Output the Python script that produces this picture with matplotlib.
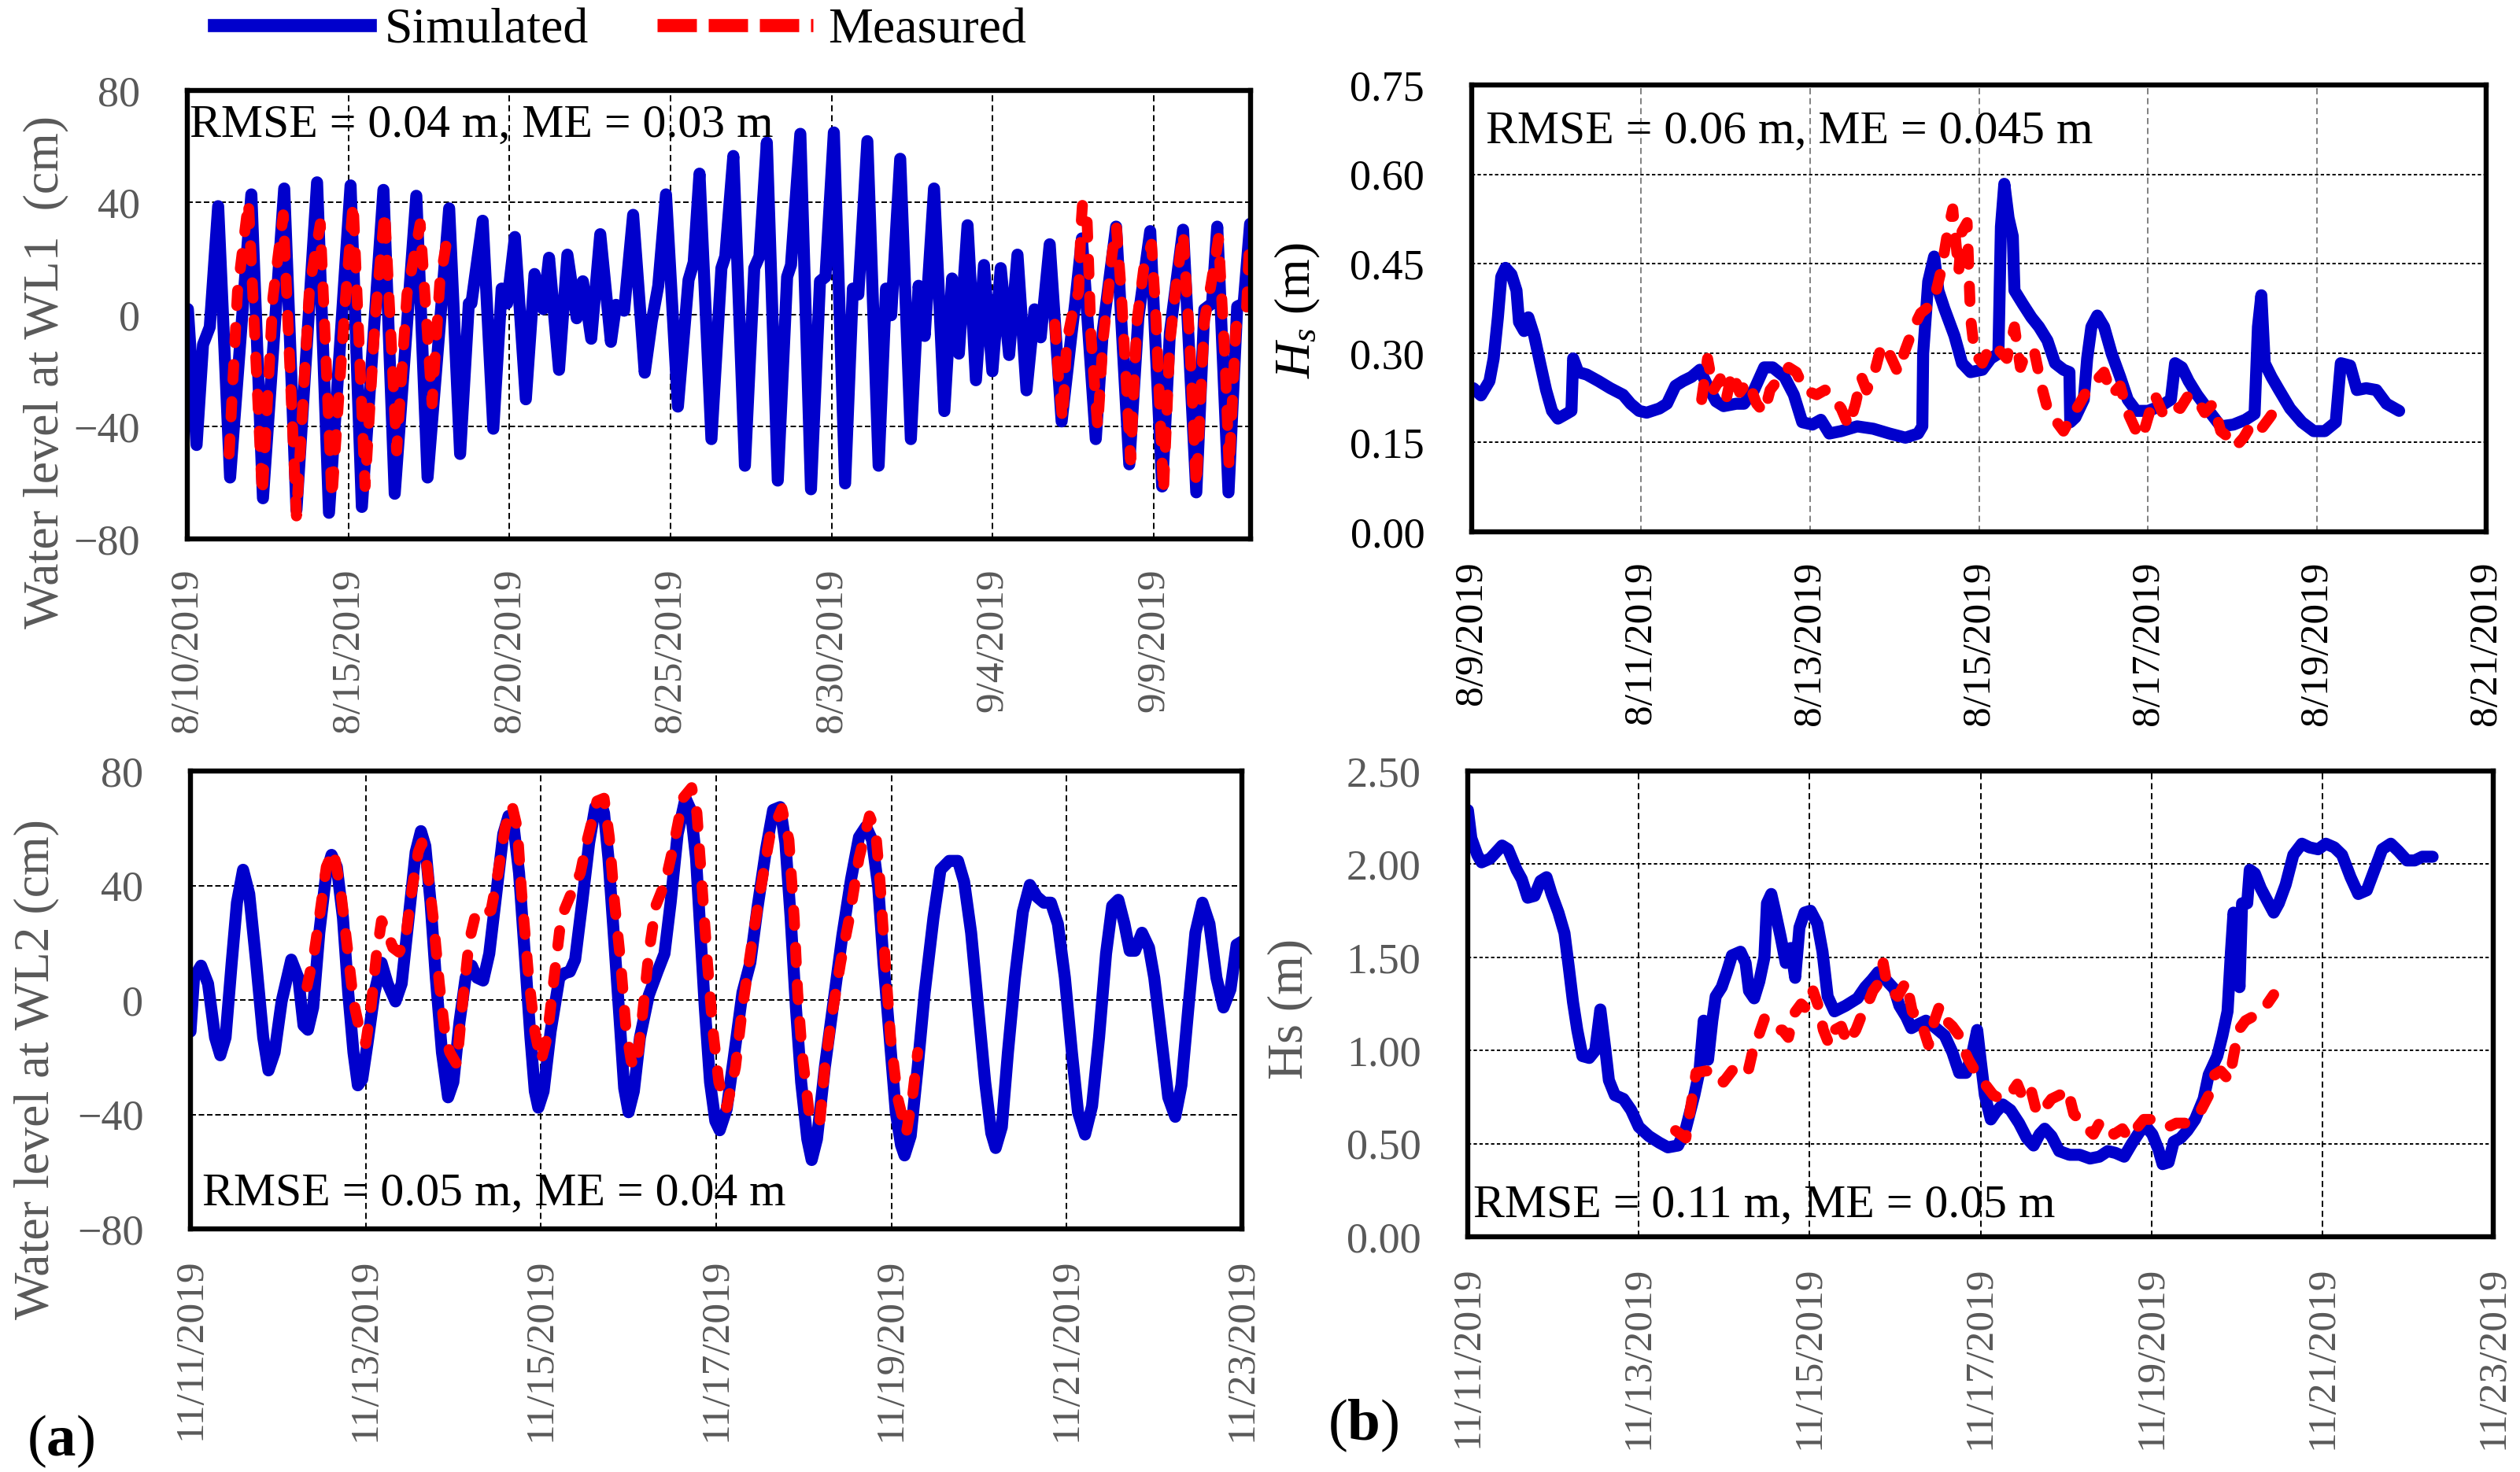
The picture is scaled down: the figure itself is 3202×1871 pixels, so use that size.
import numpy as np
import pandas as pd
import matplotlib
matplotlib.use("Agg")
import matplotlib.pyplot as plt
from matplotlib.lines import Line2D

plt.rcParams['font.family'] = ['Liberation Serif', 'DejaVu Serif']
plt.rcParams['mathtext.fontset'] = 'custom'
plt.rcParams['mathtext.rm'] = 'Liberation Serif'
plt.rcParams['mathtext.it'] = 'Liberation Serif:italic'
plt.rcParams['mathtext.bf'] = 'Liberation Serif:bold'

# ---- data: (days since start, value) ----
# Water level at WL1 (cm), start 8/10/2019
wl1_sim = [(0.02, 2), (0.29, -46.5), (0.49, -10.7), (0.70, -4.4), (0.96, 38.7), (1.33, -58.1),
           (1.99, 42.9), (2.35, -65.5), (3.01, 45.0), (3.39, -69.7), (4.03, 47.2), (4.40, -70.7),
           (5.07, 46.1), (5.42, -68.6), (6.09, 44.5), (6.44, -63.9), (7.11, 42.4), (7.46, -58.1),
           (8.13, 37.9), (8.47, -49.7), (8.74, 4.0), (8.82, 4.0), (9.17, 33.5), (9.50, -40.7),
           (9.76, 9.3), (9.93, 4.0), (10.17, 27.7), (10.51, -30.2), (10.78, 14.5), (11.05, 2.0),
           (11.23, 20.3), (11.54, -19.7), (11.80, 21.4), (12.09, -1.3), (12.28, 11.9), (12.54, -8.6),
           (12.82, 28.7), (13.15, -9.7), (13.31, 3.5), (13.56, 1.4), (13.84, 35.6), (14.20, -20.7),
           (14.42, -2.3), (14.62, 10.3), (14.86, 42.9), (15.23, -32.8), (15.56, 12.4), (15.72, 18.7),
           (15.90, 50.3), (16.27, -44.4), (16.58, 16.6), (16.70, 20.8), (16.95, 56.6), (17.31, -53.9),
           (17.60, 16.6), (17.76, 20.8), (17.99, 61.4), (18.33, -59.2), (18.62, 13.5), (18.74, 17.7),
           (19.03, 64.5), (19.36, -62.3), (19.64, 11.9), (19.81, 13.5), (20.07, 65.0), (20.42, -60.2),
           (20.66, 9.3), (20.83, 7.2), (21.11, 61.9), (21.46, -53.9), (21.69, 9.3), (21.85, -0.2),
           (22.13, 55.6), (22.46, -44.4), (22.70, 10.3), (22.89, -7.6), (23.18, 45.0), (23.50, -34.4),
           (23.74, 12.9), (23.95, -13.9), (24.22, 31.9), (24.48, -23.4), (24.73, 17.7), (24.99, -20.2),
           (25.25, 16.6), (25.51, -14.4), (25.77, 21.4), (26.05, -27.0), (26.30, 1.9), (26.49, -8.1),
           (26.77, 25.1), (27.14, -38.1), (27.44, -7.6), (27.56, 4.0), (27.77, 27.2), (28.20, -44.4),
           (28.42, -5.5), (28.83, 31.4), (29.24, -53.4), (29.52, -1.3), (29.89, 29.8), (30.26, -61.3),
           (30.50, -6.5), (30.91, 30.3), (31.32, -63.4), (31.57, 1.9), (31.81, 4.0), (31.97, 31.4),
           (32.32, -63.4), (32.59, 2.9), (32.79, 4.0), (32.99, 32.4)]
wl1_meas_a = [(1.30, -49.7), (1.56, 8.2), (1.90, 40.3), (2.33, -64.4), (2.66, 6.1), (2.98, 35.6),
              (3.39, -71.8), (3.80, 10.3), (4.13, 32.4), (4.49, -65.5), (4.90, 4.0), (5.15, 39.8),
              (5.52, -61.3), (5.84, -0.2), (6.13, 36.6), (6.50, -48.6), (6.82, 7.2), (7.23, 32.4),
              (7.60, -31.8), (7.84, 11.4), (8.13, 31.4)]
wl1_meas_b = [(26.93, -3.4), (27.05, -23.4), (27.17, -37.6), (27.30, -9.7), (27.50, 1.9), (27.67, 8.2),
              (27.74, 31.4), (27.79, 39.8), (27.93, 33.5), (27.97, 20.8), (28.05, -7.6), (28.26, -40.2),
              (28.42, -9.7), (28.58, 7.2), (28.71, 21.9), (28.84, 31.4), (28.99, 8.2), (29.28, -51.8),
              (29.48, -2.3), (29.69, 16.6), (29.93, 25.1), (30.05, 2.9), (30.30, -63.4), (30.50, -9.7),
              (30.67, 8.2), (30.91, 29.3), (31.12, -10.7), (31.32, -61.3), (31.57, -2.3), (31.77, 10.3),
              (32.01, 27.2), (32.22, -18.1), (32.34, -54.9), (32.55, -4.4), (32.88, 1.9), (32.96, 22.9)]

# Hs (m), start 8/9/2019
hs1_sim = [(0.02, 0.241), (0.11, 0.229), (0.21, 0.253), (0.26, 0.291), (0.31, 0.36), (0.35, 0.428),
           (0.40, 0.443), (0.47, 0.432), (0.53, 0.405), (0.56, 0.352), (0.62, 0.337), (0.67, 0.36),
           (0.74, 0.329), (0.81, 0.283), (0.88, 0.238), (0.95, 0.203), (1.02, 0.19), (1.12, 0.198),
           (1.18, 0.203), (1.20, 0.291), (1.26, 0.268), (1.36, 0.264), (1.50, 0.253), (1.64, 0.241),
           (1.79, 0.23), (1.88, 0.215), (1.98, 0.203), (2.07, 0.2), (2.22, 0.207), (2.31, 0.215),
           (2.41, 0.245), (2.50, 0.253), (2.60, 0.26), (2.70, 0.272), (2.79, 0.245), (2.89, 0.219),
           (2.98, 0.211), (3.13, 0.215), (3.22, 0.215), (3.34, 0.238), (3.46, 0.276), (3.56, 0.276),
           (3.70, 0.26), (3.81, 0.23), (3.91, 0.184), (4.03, 0.18), (4.13, 0.188), (4.23, 0.165),
           (4.37, 0.169), (4.56, 0.177), (4.75, 0.173), (4.94, 0.165), (5.13, 0.158), (5.28, 0.165),
           (5.33, 0.177), (5.34, 0.299), (5.40, 0.42), (5.47, 0.462), (5.52, 0.405), (5.59, 0.375),
           (5.71, 0.329), (5.80, 0.283), (5.90, 0.268), (6.04, 0.272), (6.14, 0.291), (6.23, 0.299),
           (6.26, 0.512), (6.30, 0.584), (6.35, 0.527), (6.40, 0.496), (6.42, 0.405), (6.52, 0.382),
           (6.62, 0.36), (6.71, 0.344), (6.81, 0.321), (6.90, 0.283), (7.00, 0.272), (7.07, 0.268),
           (7.08, 0.184), (7.14, 0.192), (7.24, 0.222), (7.28, 0.291), (7.33, 0.344), (7.40, 0.363),
           (7.48, 0.344), (7.57, 0.299), (7.67, 0.26), (7.76, 0.222), (7.86, 0.203), (8.00, 0.203),
           (8.15, 0.211), (8.27, 0.222), (8.32, 0.283), (8.40, 0.276), (8.48, 0.253), (8.58, 0.23),
           (8.72, 0.203), (8.86, 0.177), (9.01, 0.18), (9.15, 0.188), (9.26, 0.198), (9.30, 0.344),
           (9.34, 0.397), (9.38, 0.283), (9.46, 0.26), (9.55, 0.238), (9.68, 0.207), (9.82, 0.184),
           (9.96, 0.169), (10.09, 0.169), (10.22, 0.184), (10.28, 0.283), (10.39, 0.279), (10.47, 0.238),
           (10.58, 0.241), (10.70, 0.238), (10.82, 0.215), (10.97, 0.203)]
hs1_meas = [(2.72, 0.222), (2.79, 0.291), (2.86, 0.238), (2.94, 0.257), (3.01, 0.222), (3.08, 0.268),
            (3.17, 0.234), (3.27, 0.253), (3.37, 0.215), (3.46, 0.2), (3.53, 0.238), (3.65, 0.26),
            (3.75, 0.276), (3.84, 0.268), (3.94, 0.238), (4.08, 0.23), (4.18, 0.238), (4.29, 0.222),
            (4.37, 0.207), (4.46, 0.177), (4.54, 0.215), (4.61, 0.26), (4.67, 0.238), (4.75, 0.26),
            (4.85, 0.314), (4.94, 0.299), (5.04, 0.268), (5.13, 0.306), (5.23, 0.344), (5.31, 0.367),
            (5.38, 0.375), (5.47, 0.39), (5.56, 0.443), (5.63, 0.504), (5.69, 0.542), (5.76, 0.436),
            (5.80, 0.504), (5.86, 0.519), (5.90, 0.36), (5.95, 0.299), (6.04, 0.283), (6.14, 0.314),
            (6.23, 0.306), (6.33, 0.291), (6.42, 0.344), (6.49, 0.276), (6.57, 0.306), (6.66, 0.299),
            (6.74, 0.245), (6.81, 0.207), (6.90, 0.188), (7.00, 0.169), (7.09, 0.192), (7.19, 0.215),
            (7.28, 0.238), (7.38, 0.253), (7.48, 0.268), (7.57, 0.23), (7.67, 0.245), (7.76, 0.2),
            (7.86, 0.169), (7.93, 0.158), (8.00, 0.192), (8.08, 0.23), (8.17, 0.2), (8.27, 0.215),
            (8.38, 0.207), (8.48, 0.23), (8.58, 0.222), (8.67, 0.2), (8.77, 0.215), (8.86, 0.169),
            (8.96, 0.158), (9.03, 0.142), (9.13, 0.158), (9.24, 0.184), (9.34, 0.173), (9.44, 0.192),
            (9.55, 0.215)]

# Water level at WL2 (cm), start 11/11/2019
wl2_sim = [(0.00, -11), (0.04, 7.8), (0.12, 12), (0.20, 5.7), (0.28, -13.1), (0.34, -19.3), (0.40, -13.1),
           (0.47, 13), (0.53, 34), (0.60, 45.5), (0.67, 37.1), (0.75, 13), (0.83, -13.1), (0.89, -24.6),
           (0.96, -18.3), (1.04, -0.5), (1.15, 14.1), (1.23, 7.8), (1.29, -8.9), (1.34, -10.4),
           (1.40, -2.6), (1.47, 23.5), (1.55, 44.4), (1.61, 50.7), (1.67, 46.5), (1.74, 28.7),
           (1.80, 2.6), (1.86, -18.3), (1.91, -29.8), (1.96, -27.7), (2.02, -15.2), (2.10, 2.6),
           (2.18, 13), (2.25, 5.7), (2.34, -0.5), (2.41, 5.7), (2.49, 28.7), (2.57, 51.7), (2.63, 59),
           (2.68, 53.8), (2.74, 34), (2.80, 7.8), (2.87, -18.3), (2.94, -34), (3.00, -28.7),
           (3.07, -7.8), (3.14, 7.8), (3.21, 12), (3.27, 7.8), (3.34, 6.8), (3.41, 16.2), (3.49, 37.1),
           (3.57, 58), (3.63, 64.3), (3.69, 60.1), (3.75, 44.4), (3.81, 18.3), (3.88, -13.1),
           (3.93, -31.9), (3.97, -37.6), (4.03, -31.9), (4.11, -11), (4.21, 7.8), (4.27, 9.4),
           (4.33, 9.9), (4.39, 14.1), (4.47, 34), (4.55, 54.9), (4.62, 67.4), (4.68, 69.5), (4.72, 65.3),
           (4.77, 49.6), (4.83, 23.5), (4.90, -7.8), (4.95, -30.8), (5.00, -39.2), (5.06, -31.9),
           (5.13, -13.1), (5.23, 1.6), (5.33, 9.9), (5.41, 16.2), (5.48, 34), (5.56, 58), (5.65, 70.5),
           (5.71, 66.4), (5.77, 49.6), (5.82, 23.5), (5.87, -2.6), (5.93, -28.7), (5.99, -42.3),
           (6.04, -45.5), (6.12, -38.1), (6.20, -20.4), (6.30, 2.6), (6.39, 13.1), (6.47, 31.9),
           (6.57, 52.8), (6.65, 66.4), (6.73, 67.4), (6.79, 54.9), (6.85, 28.7), (6.91, -2.6),
           (6.97, -28.7), (7.04, -48.6), (7.09, -55.9), (7.15, -48.6), (7.24, -23.5), (7.34, -0.5),
           (7.44, 22.5), (7.54, 42.3), (7.63, 56.9), (7.71, 60.6), (7.78, 55.9), (7.85, 39.2),
           (7.91, 13.1), (7.98, -13.1), (8.05, -39.2), (8.11, -50.7), (8.15, -54.3), (8.22, -47.5),
           (8.30, -23.5), (8.38, 2.6), (8.48, 28.7), (8.56, 45.5), (8.66, 48.6), (8.76, 48.6),
           (8.83, 41.3), (8.91, 23.5), (8.99, -2.6), (9.07, -28.7), (9.14, -46.5), (9.19, -51.7),
           (9.26, -44.4), (9.33, -18.3), (9.41, 7.8), (9.50, 30.8), (9.58, 40.2), (9.66, 36.1),
           (9.74, 34), (9.82, 34), (9.90, 26.6), (9.98, 7.8), (10.06, -18.3), (10.13, -39.2),
           (10.21, -47), (10.29, -37.1), (10.37, -13.1), (10.45, 16.2), (10.52, 32.9), (10.59, 35),
           (10.66, 26.6), (10.72, 17.2), (10.78, 17.2), (10.86, 23.5), (10.94, 18.3), (11.00, 7.8),
           (11.08, -13.1), (11.16, -34), (11.24, -40.8), (11.31, -29.8), (11.39, -2.6), (11.47, 23.5),
           (11.55, 34), (11.63, 26.6), (11.71, 7.8), (11.79, -2.6), (11.87, 3.7), (11.94, 19.3),
           (12.00, 20.4)]
wl2_meas = [(1.33, 4.7), (1.41, 16.2), (1.47, 28.7), (1.55, 46.5), (1.63, 52.2), (1.71, 39.2), (1.79, 18.3),
            (1.86, -0.5), (1.92, -8.9), (2.00, -15.2), (2.06, -2.6), (2.12, 15.2), (2.18, 27.7), (2.24, 24),
            (2.31, 18.3), (2.38, 16.7), (2.45, 20.4), (2.53, 39.2), (2.60, 51.7), (2.64, 54.9), (2.70, 46.5),
            (2.77, 28.7), (2.84, 5.7), (2.91, -13.1), (2.96, -18.3), (3.04, -22.5), (3.10, -2.6),
            (3.18, 20.4), (3.26, 30.8), (3.33, 29.8), (3.43, 31.3), (3.51, 44.4), (3.59, 60.1),
            (3.67, 67.9), (3.73, 60.1), (3.78, 37.1), (3.86, 7.8), (3.93, -11), (4.00, -21.4),
            (4.07, -13.1), (4.15, 7.8), (4.23, 28.7), (4.33, 36.1), (4.45, 44.4), (4.52, 54.9),
            (4.64, 69.5), (4.72, 70.5), (4.78, 56.9), (4.84, 34), (4.91, 13.1), (4.97, -9.9),
            (5.03, -21.4), (5.09, -23.5), (5.15, -7.8), (5.23, 16.2), (5.31, 32.9), (5.42, 41.3),
            (5.52, 54.9), (5.62, 70.5), (5.72, 74.2), (5.78, 65.3), (5.84, 39.2), (5.90, 13.1),
            (5.96, -9.9), (6.03, -28.7), (6.12, -37.6), (6.22, -23.5), (6.30, -2.6), (6.41, 20.4),
            (6.51, 39.2), (6.61, 56.9), (6.75, 66.9), (6.83, 55.9), (6.89, 28.7), (6.93, 2.6),
            (6.98, -18.3), (7.06, -39.2), (7.18, -43.4), (7.24, -23.5), (7.32, -5.7), (7.42, 13.1),
            (7.52, 28.7), (7.63, 49.6), (7.75, 64.3), (7.82, 59), (7.87, 41.3), (7.93, 13.1),
            (7.99, -13.1), (8.07, -34), (8.17, -46.5), (8.24, -34), (8.30, -18.3)]

# Hs (m), start 11/11/2019
hs2_sim = [(0.00, 2.29), (0.04, 2.14), (0.11, 2.05), (0.16, 2.01), (0.26, 2.03), (0.32, 2.06), (0.40, 2.10),
           (0.47, 2.08), (0.57, 1.97), (0.63, 1.92), (0.70, 1.82), (0.78, 1.83), (0.85, 1.91), (0.92, 1.93),
           (0.98, 1.84), (1.06, 1.74), (1.13, 1.63), (1.18, 1.45), (1.23, 1.26), (1.28, 1.11), (1.34, 0.97),
           (1.42, 0.96), (1.49, 1.00), (1.55, 1.22), (1.61, 1.00), (1.65, 0.84), (1.72, 0.76), (1.82, 0.74),
           (1.91, 0.68), (2.00, 0.59), (2.12, 0.54), (2.24, 0.505), (2.34, 0.48), (2.46, 0.49), (2.55, 0.58),
           (2.65, 0.76), (2.71, 0.89), (2.76, 1.16), (2.81, 0.95), (2.86, 1.16), (2.90, 1.29), (2.97, 1.34),
           (3.03, 1.42), (3.09, 1.51), (3.19, 1.53), (3.25, 1.47), (3.29, 1.32), (3.35, 1.28), (3.41, 1.37),
           (3.47, 1.50), (3.50, 1.79), (3.55, 1.84), (3.59, 1.76), (3.66, 1.61), (3.72, 1.47), (3.78, 1.55),
           (3.83, 1.39), (3.88, 1.66), (3.94, 1.74), (4.01, 1.75), (4.09, 1.68), (4.15, 1.53), (4.21, 1.29),
           (4.29, 1.21), (4.42, 1.24), (4.56, 1.28), (4.65, 1.34), (4.73, 1.38), (4.80, 1.42), (4.89, 1.38),
           (4.99, 1.33), (5.05, 1.24), (5.13, 1.18), (5.19, 1.12), (5.27, 1.14), (5.36, 1.16), (5.45, 1.13),
           (5.58, 1.08), (5.67, 0.99), (5.75, 0.88), (5.83, 0.88), (5.91, 1.00), (5.96, 1.11), (6.00, 0.95),
           (6.05, 0.76), (6.12, 0.63), (6.18, 0.67), (6.26, 0.71), (6.35, 0.68), (6.45, 0.61), (6.54, 0.53),
           (6.62, 0.49), (6.69, 0.55), (6.75, 0.58), (6.83, 0.54), (6.92, 0.46), (7.04, 0.44), (7.16, 0.44),
           (7.28, 0.42), (7.39, 0.43), (7.49, 0.46), (7.58, 0.45), (7.68, 0.43), (7.77, 0.50), (7.87, 0.57),
           (7.94, 0.59), (8.01, 0.55), (8.08, 0.47), (8.13, 0.39), (8.20, 0.40), (8.26, 0.51), (8.34, 0.53),
           (8.42, 0.57), (8.51, 0.63), (8.61, 0.74), (8.67, 0.87), (8.77, 0.97), (8.83, 1.08), (8.89, 1.21),
           (8.93, 1.53), (8.96, 1.74), (9.00, 1.66), (9.03, 1.34), (9.06, 1.79), (9.12, 1.79), (9.15, 1.97),
           (9.21, 1.95), (9.28, 1.87), (9.36, 1.80), (9.43, 1.74), (9.49, 1.79), (9.57, 1.89), (9.66, 2.05),
           (9.76, 2.11), (9.85, 2.09), (9.95, 2.08), (10.04, 2.11), (10.14, 2.09), (10.23, 2.05),
           (10.33, 1.93), (10.42, 1.84), (10.52, 1.86), (10.61, 1.97), (10.70, 2.08), (10.80, 2.11),
           (10.89, 2.07), (10.99, 2.02), (11.08, 2.02), (11.17, 2.04), (11.29, 2.04)]
hs2_meas = [(2.43, 0.57), (2.55, 0.53), (2.67, 0.88), (2.78, 0.89), (2.90, 0.89), (2.99, 0.83), (3.14, 0.92),
            (3.28, 0.89), (3.35, 1.03), (3.41, 1.09), (3.47, 1.17), (3.53, 1.16), (3.61, 1.11), (3.68, 1.11),
            (3.75, 1.07), (3.82, 1.20), (3.90, 1.25), (3.97, 1.22), (4.04, 1.32), (4.10, 1.24), (4.16, 1.11),
            (4.23, 1.03), (4.29, 1.11), (4.37, 1.13), (4.44, 1.04), (4.54, 1.11), (4.60, 1.18), (4.67, 1.24),
            (4.74, 1.32), (4.82, 1.37), (4.86, 1.47), (4.91, 1.34), (5.03, 1.29), (5.13, 1.37), (5.20, 1.21),
            (5.30, 1.16), (5.39, 1.03), (5.46, 1.16), (5.52, 1.24), (5.60, 1.16), (5.67, 1.13), (5.75, 1.08),
            (5.81, 1.00), (5.86, 0.95), (5.96, 0.87), (6.05, 0.82), (6.15, 0.76), (6.24, 0.74), (6.34, 0.76),
            (6.43, 0.82), (6.50, 0.74), (6.59, 0.79), (6.66, 0.66), (6.73, 0.68), (6.83, 0.74), (6.92, 0.76),
            (7.02, 0.79), (7.09, 0.66), (7.19, 0.61), (7.25, 0.58), (7.32, 0.55), (7.39, 0.61), (7.49, 0.61),
            (7.56, 0.55), (7.66, 0.58), (7.73, 0.53), (7.82, 0.58), (7.91, 0.63), (8.01, 0.63), (8.10, 0.61),
            (8.20, 0.59), (8.29, 0.61), (8.40, 0.61), (8.48, 0.63), (8.58, 0.68), (8.67, 0.76), (8.74, 0.87),
            (8.81, 0.89), (8.91, 0.84), (8.96, 0.97), (9.02, 1.11), (9.10, 1.16), (9.18, 1.18), (9.24, 1.21),
            (9.34, 1.24), (9.43, 1.30)]

wl_yticks = [-80, -40, 0, 40, 80]
hs1_yticks = [0.00, 0.15, 0.30, 0.45, 0.60, 0.75]
hs2_yticks = [0.00, 0.50, 1.00, 1.50, 2.00, 2.50]

BLUE = '#0000CC'
RED = '#FF0000'
GRAY = '#595959'

fig = plt.figure(figsize=(32.02, 18.71), dpi=100)


def panel(rect, sim, meas, start, ndays, step, yticks, ylabels, ylabel, ylabel_xy,
          tick_color, note, note_xy, vgrid_color='black', hgrid_ls=(0, (3.6, 1.8))):
    ax = fig.add_axes(rect)
    sd, sv = zip(*sim)
    ax.plot(sd, sv, color=BLUE, lw=11, solid_joinstyle='round', solid_capstyle='round', zorder=3)
    md, mv = zip(*meas)
    ax.plot(md, mv, color=RED, lw=10, dashes=(1.4, 2.0), dash_capstyle='round',
            dash_joinstyle='round', zorder=4)

    ax.set_xlim(0, ndays)
    ax.set_ylim(yticks[0], yticks[-1])
    xt = np.arange(0, ndays + 0.01, step)
    dates = pd.date_range(start, periods=len(xt), freq=f'{step}D')
    ax.set_xticks(xt)
    ax.set_xticklabels([f'{d.month}/{d.day}/{d.year}' for d in dates], rotation=90)
    ax.set_yticks(yticks)
    ax.set_yticklabels(ylabels)
    ax.tick_params(axis='x', length=0, pad=27, labelsize=37, labelcolor=tick_color)
    ax.tick_params(axis='y', length=0, pad=43, labelsize=39, labelcolor=tick_color)

    ax.set_axisbelow(True)
    ax.grid(axis='x', color=vgrid_color, lw=1.4, ls=(0, (4, 2.5)))
    ax.grid(axis='y', color='black', lw=1.4, ls=hgrid_ls)
    for sp in ax.spines.values():
        sp.set_linewidth(4.6)
        sp.set_color('black')
        sp.set_zorder(5)

    ax.set_ylabel(ylabel, fontsize=46, color=tick_color, va='center')
    ax.yaxis.set_label_coords(ylabel_xy[0], ylabel_xy[1], transform=fig.transFigure)
    ax.text(note_xy[0], note_xy[1], note, transform=ax.transAxes, fontsize=43,
            ha='left', va='baseline', color='black', zorder=6)
    return ax


wl1_meas = wl1_meas_a + [(np.nan, np.nan)] + wl1_meas_b
wl_labels = [f'{v:d}'.replace('-', '\u2212') for v in wl_yticks]

panel([0.0743, 0.6339, 0.4219, 0.3047], wl1_sim, wl1_meas, '2019-08-10', 33, 5,
      wl_yticks, wl_labels, 'Water level at WL1  (cm)', (0.0181, 0.7472), GRAY,
      'RMSE = 0.04 m, ME = 0.03 m', (0.002, 0.896))

panel([0.5840, 0.6387, 0.4026, 0.3036], hs1_sim, hs1_meas, '2019-08-09', 12, 2,
      hs1_yticks, [f'{v:.2f}' for v in hs1_yticks], r'$H_s$ (m)', (0.515, 0.7894), 'black',
      'RMSE = 0.06 m, ME = 0.045 m', (0.014, 0.870), vgrid_color='#808080',
      hgrid_ls=(0, (2.2, 1.6)))

panel([0.0756, 0.1651, 0.4172, 0.3111], wl2_sim, wl2_meas, '2019-11-11', 12, 2,
      wl_yticks, wl_labels, 'Water level at WL2 (cm)', (0.0144, 0.2737), GRAY,
      'RMSE = 0.05 m, ME = 0.04 m', (0.011, 0.053))

panel([0.5825, 0.1598, 0.4069, 0.3164], hs2_sim, hs2_meas, '2019-11-11', 12, 2,
      hs2_yticks, [f'{v:.2f}' for v in hs2_yticks], 'Hs (m)', (0.512, 0.3143), GRAY,
      'RMSE = 0.11 m, ME = 0.05 m', (0.005, 0.042), hgrid_ls=(0, (2.2, 1.6)))

handles = [Line2D([], [], color=BLUE, lw=12),
           Line2D([], [], color=RED, lw=12, dashes=(3.0, 0.9))]
fig.legend(handles, ['Simulated', 'Measured'], loc='center', bbox_to_anchor=(0.246, 0.979),
           ncol=2, frameon=False, fontsize=46, handlelength=3.1, handletextpad=0.3,
           columnspacing=1.35, borderpad=0, borderaxespad=0)

fig.text(0.024, 0.021, r'($\mathbf{a}$)', fontsize=54, ha='center', va='center')
fig.text(0.541, 0.0315, r'($\mathbf{b}$)', fontsize=54, ha='center', va='center')

fig.savefig('out.png', dpi=100)
